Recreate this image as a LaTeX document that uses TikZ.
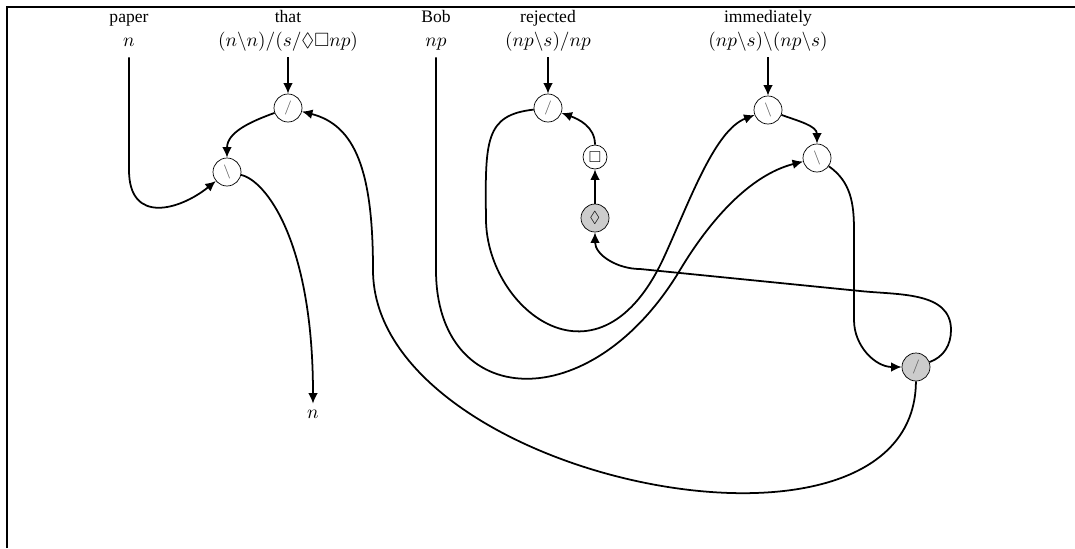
\documentclass[tikz,border=0pt]{standalone}
\usepackage{amssymb}
\usepackage{fontspec}
\setmainfont{Liberation Serif}
\usetikzlibrary{arrows.meta}
\tikzset{
  link/.style={-{Latex[length=6pt,width=5.5pt]},line width=1pt},
  word/.style={anchor=base},
  type/.style={anchor=base,text depth=0.3em,font=\fontsize{10.95pt}{13pt}\selectfont},
  par/.style={circle,draw,thin,minimum size=0.56cm,inner sep=0pt,font=\footnotesize,text=black!65},
  tens/.style={par,fill=black!20},
  unary/.style={circle,draw,thin,minimum size=0.48cm,inner sep=0pt,font=\small}
}
\begin{document}
\begin{tikzpicture}[x=0.02cm,y=0.02cm]
      \useasboundingbox (0,0) rectangle (1075,-548);
      \draw[line width=1.6pt] (7,-548) -- (7,-7) -- (1075,-7);
      \draw
        (129,-22) node[word] (paper){paper}
        (129,-46) node[type] (pn){$n$}
        (288,-22) node[word] (that){that}
        (288,-46) node[type] (tt){$(n\backslash n)/(s/\Diamond\Box np)$}
        (436,-22) node[word] (bob){Bob}
        (436,-46) node[type] (bn){$np$}
        (548,-22) node[word] (rej){rejected}
        (548,-46) node[type] (rt){$(np\backslash s)/np$}
        (768,-22) node[word] (imm){immediately}
        (768,-46) node[type] (it){$(np\backslash s)\backslash(np\backslash s)$}
        (288,-108) node[par] (ts){$/$}
        (227,-172) node[par] (lb){$\backslash$}
        (313,-414) node[type,anchor=center,text depth=0pt] (nn){$n$}
        (548,-108) node[par] (rs){$/$}
        (595,-157) node[unary] (bx){$\Box$}
        (595,-218) node[unary,fill=black!20,minimum size=0.56cm] (dm){$\Diamond$}
        (768,-110) node[par] (is){$\backslash$}
        (817,-158) node[par] (ls){$\backslash$}
        (916,-367) node[tens] (gs){$/$};
      \begin{scope}[link]
        \draw (tt) -- (ts);
        \draw (rt) -- (rs);
        \draw (it) -- (is);
        \draw (pn) -- (129,-170) .. controls (129,-225) and (180,-210) .. (lb);
        \draw (ts) to[out=200,in=90] (lb);
        \draw (lb) .. controls (265,-180) and (313,-240) .. (nn);
        \draw (gs) .. controls (915,-590) and (373,-480) .. (373,-270)
          .. controls (373,-170) and (355,-125) .. (ts);
        \draw (bn) -- (436,-270) .. controls (436,-410) and (590,-420) .. (680,-270)
          .. controls (710,-220) and (750,-175) .. (ls);
        \draw (rs) .. controls (485,-115) and (485,-140) .. (486,-220)
          .. controls (487,-310) and (600,-400) .. (665,-255)
          .. controls (690,-200) and (715,-130) .. (is);
        \draw (dm) -- (bx);
        \draw (bx) to[out=90,in=-20] (rs);
        \draw (is) to[out=-20,in=90] (ls);
        \draw (ls) to[out=-35,in=90] (854,-230) -- (854,-320) to[out=-90,in=180] (gs);
        \draw (gs) to[out=20,in=-90] (951,-330) to[out=90,in=-6] (860,-291)
          -- (640,-269) to[out=180,in=-90] (dm);
      \end{scope}
    \end{tikzpicture}
\end{document}
